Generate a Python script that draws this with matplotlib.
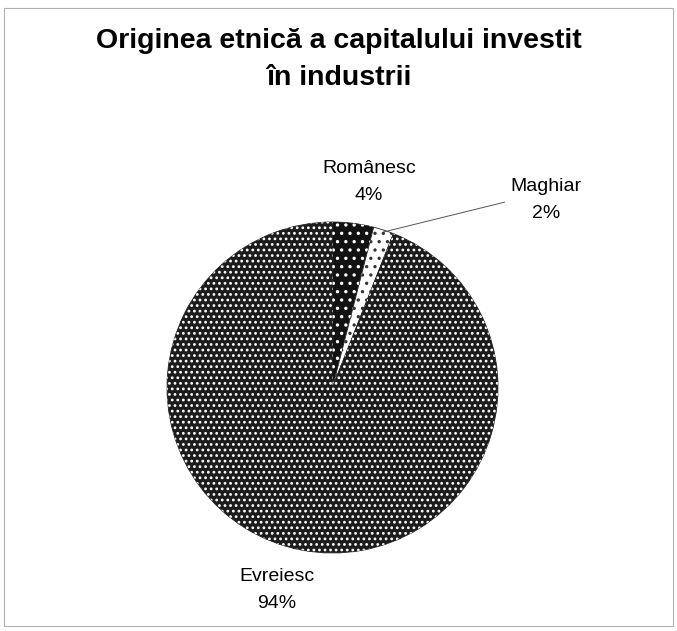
import matplotlib.pyplot as plt
from matplotlib.patches import Rectangle, Wedge

plt.rcParams['font.family'] = ['Liberation Sans', 'DejaVu Sans']
plt.rcParams['hatch.linewidth'] = 1.2

labels = ['Românesc', 'Maghiar', 'Evreiesc']
values = [4, 2, 94]
faces = ['#121212', '#ffffff', '#1c1c1c']
dots = ['white', '#333333', 'white']
hatches = ['..', '..', '...']

fig = plt.figure(figsize=(6.77, 6.31), dpi=100)
fig.patches.append(Rectangle((0.006, 0.008), 0.988, 0.98, transform=fig.transFigure,
                             fill=False, edgecolor='#b0b0b0', linewidth=0.8))

ax = fig.add_axes([0.2467, 0.1236, 0.4889, 0.5246])
wedges, _ = ax.pie(values, startangle=90, counterclock=False, colors=faces,
                   wedgeprops=dict(edgecolor='#222222', linewidth=0.6))
# dotted fill pattern on top of each slice
for w, hc, h in zip(wedges, dots, hatches):
    p = Wedge(w.center, w.r, w.theta1, w.theta2, facecolor='none',
              edgecolor=hc, hatch=h, linewidth=0)
    ax.add_patch(p)
ax.set_xlim(-1, 1)
ax.set_ylim(-1, 1)
ax.set_aspect('equal')
ax.axis('off')

pct = [f'{v}%' for v in values]
ax.text(0.22, 1.242, f'{labels[0]}\n{pct[0]}', ha='center', va='center',
        fontsize=14, linespacing=1.75, clip_on=False)
ax.text(1.29, 1.133, f'{labels[1]}\n{pct[1]}', ha='center', va='center',
        fontsize=14, linespacing=1.8, clip_on=False)
ax.text(-0.335, -1.224, f'{labels[2]}\n{pct[2]}', ha='center', va='center',
        fontsize=14, linespacing=1.8, clip_on=False)
ax.plot([1.04, 0.31], [1.12, 0.94], color='#555555', linewidth=0.7, clip_on=False)

fig.text(0.5, 0.905, 'Originea etnică a capitalului investit\nîn industrii',
         ha='center', va='center', fontsize=20.5, fontweight='bold', linespacing=1.55)

fig.savefig('out.png', dpi=100, facecolor='white')
